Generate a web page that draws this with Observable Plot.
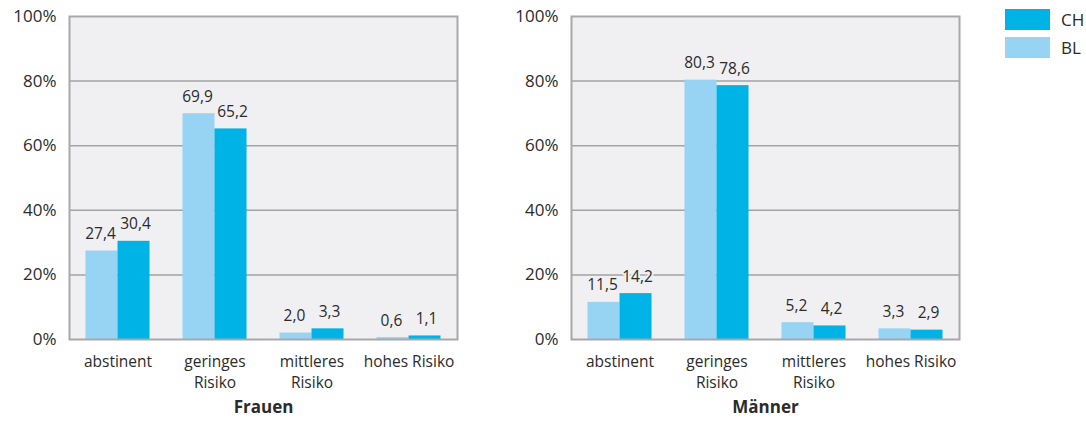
<!DOCTYPE html>
<html><head><meta charset="utf-8">
<script src="https://cdn.jsdelivr.net/npm/d3@7"></script>
<script src="https://cdn.jsdelivr.net/npm/@observablehq/plot@0.6"></script>
<style>
body{margin:0;background:#fff;font-family:"Open Sans",sans-serif;color:#2b2b2b;}
#wrap{position:relative;width:1086px;height:422px;display:flex;}
.sw{position:absolute;left:1005px;width:45px;height:21px;}
.lt{position:absolute;left:1061px;font-size:17px;line-height:21px;}
</style></head><body>
<div id="wrap"></div>
<script>
const categories = ["abstinent","geringes Risiko","mittleres Risiko","hohes Risiko"];
const categoryLabels = ["abstinent","geringes\nRisiko","mittleres\nRisiko","hohes Risiko"];
const seriesNames = ["BL","CH"];
const frauenBL = [27.4,69.9,2.0,0.6];
const frauenCH = [30.4,65.2,3.3,1.1];
const maennerBL = [11.5,80.3,5.2,3.3];
const maennerCH = [14.2,78.6,4.2,2.9];
const yTicks = [0,20,40,60,80,100];
const gridTicks = [20,40,60,80];
const colors = {BL:"#97d4f3", CH:"#00b3e6"};
const bg = "#f0f0f3";
const txt = "#2b2b2b";

function fmt(v){ return v.toFixed(1).replace(".", ","); }

function panel(title, bl, ch, width, marginLeft, marginRight){
  const data = categories.map((c,i)=>({cat:c, BL:bl[i], CH:ch[i]}));
  const plotW = width - marginLeft - marginRight;
  const bw = plotW / categories.length;
  const barW = bw * 0.33;
  const half = bw/2;
  return Plot.plot({
    width, height: 422,
    marginLeft, marginRight, marginTop: 16, marginBottom: 83,
    style: {fontFamily: '"Open Sans", sans-serif', fontSize: "16px", color: txt, background: "transparent"},
    x: {domain: categories, padding: 0},
    y: {domain: [0,100]},
    marks: [
      Plot.frame({fill: bg, stroke: null}),
      Plot.ruleY(gridTicks, {stroke: "#a3a3a3", strokeWidth: 1.5}),
      Plot.barY(data, {x: "cat", y: "BL", fill: colors.BL, insetLeft: half - barW, insetRight: half}),
      Plot.barY(data, {x: "cat", y: "CH", fill: colors.CH, insetLeft: half, insetRight: half - barW}),
      Plot.text(data, {x: "cat", y: "BL", text: d=>fmt(d.BL), dx: -barW/2 - 1.5, dy: -12, lineAnchor: "bottom", fontSize: 15.5, fill: txt, stroke: bg, strokeWidth: 4}),
      Plot.text(data, {x: "cat", y: "CH", text: d=>fmt(d.CH), dx: barW/2 + 1.5, dy: -12, lineAnchor: "bottom", fontSize: 15.5, fill: txt, stroke: bg, strokeWidth: 4}),
      Plot.frame({stroke: "#a8a8a8", strokeWidth: 2}),
      Plot.axisY({ticks: yTicks, tickFormat: d=>d+"%", tickSize: 0, tickPadding: 13, fontSize: 17, label: null}),
      Plot.axisX({tickSize: 0, tickPadding: 12, fontSize: 15.5, lineHeight: 1.38, tickFormat: d=>categoryLabels[categories.indexOf(d)], label: null}),
      Plot.text([title], {frameAnchor: "bottom", dy: 73, fontWeight: "bold", fontSize: 17, fill: txt})
    ]
  });
}

const wrap = document.getElementById("wrap");
wrap.appendChild(panel("Frauen", frauenBL, frauenCH, 500, 69, 43));
wrap.appendChild(panel("Männer", maennerBL, maennerCH, 586, 71, 127));

const legendItems = [{name:"CH", top:9}, {name:"BL", top:37}];
for (const it of legendItems){
  const s = document.createElement("div");
  s.className = "sw"; s.style.top = it.top+"px"; s.style.background = colors[it.name];
  wrap.appendChild(s);
  const t = document.createElement("div");
  t.className = "lt"; t.style.top = it.top+"px"; t.textContent = it.name;
  wrap.appendChild(t);
}
</script>
</body></html>
